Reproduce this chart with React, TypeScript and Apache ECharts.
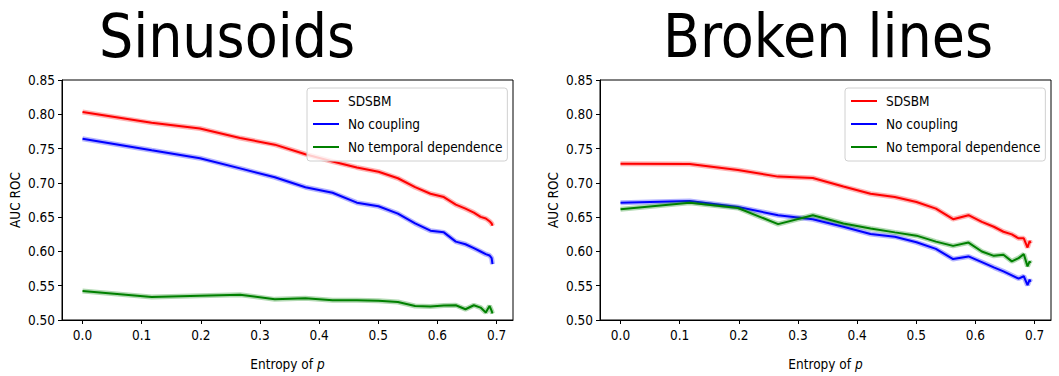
import React, { useEffect, useRef } from "react";
import * as echarts from "echarts";

// Entropy of p at which the curves were evaluated
const XS = [0, 0.1169, 0.1985, 0.2664, 0.3251, 0.3768, 0.4227, 0.4638, 0.5004, 0.5332, 0.5623, 0.5883, 0.6109, 0.6311, 0.6474, 0.6616, 0.673, 0.6818, 0.6881, 0.6917, 0.6931];
const X_TICKS = [0, 0.1, 0.2, 0.3, 0.4, 0.5, 0.6, 0.7];

const SERIES_NAMES = ["SDSBM", "No coupling", "No temporal dependence"];
const COLORS = ["#ff0000", "#0000ff", "#008000"];
const TITLES = ["Sinusoids", "Broken lines"];

// Sinusoids panel
const SIN_SDSBM = [0.8033, 0.7875, 0.7793, 0.7653, 0.7557, 0.7418, 0.7312, 0.7225, 0.7163, 0.7067, 0.6937, 0.6841, 0.6793, 0.6682, 0.6624, 0.6566, 0.6504, 0.648, 0.6441, 0.6408, 0.6374];
const SIN_NOCOUP = [0.7644, 0.7475, 0.736, 0.7211, 0.7081, 0.6937, 0.6855, 0.6711, 0.6658, 0.6552, 0.6408, 0.6302, 0.6278, 0.6143, 0.6105, 0.6047, 0.5999, 0.596, 0.5941, 0.5903, 0.5816];
const SIN_NOTEMP = [0.5422, 0.5335, 0.5354, 0.5369, 0.5301, 0.5316, 0.5287, 0.5287, 0.5282, 0.5263, 0.5205, 0.5196, 0.521, 0.5215, 0.5157, 0.5215, 0.5181, 0.5109, 0.5205, 0.5133, 0.5094];

// Broken lines panel
const BRK_SDSBM = [0.7278, 0.7274, 0.7187, 0.7091, 0.7071, 0.6946, 0.6841, 0.6793, 0.672, 0.6624, 0.647, 0.6528, 0.6432, 0.636, 0.6287, 0.6249, 0.6191, 0.6191, 0.6057, 0.6153, 0.6119];
const BRK_NOCOUP = [0.6711, 0.6735, 0.6648, 0.6528, 0.647, 0.636, 0.6254, 0.6215, 0.6133, 0.6037, 0.5888, 0.5927, 0.5845, 0.5768, 0.571, 0.5652, 0.5604, 0.5638, 0.5508, 0.559, 0.5556];
const BRK_NOTEMP = [0.6615, 0.6711, 0.6634, 0.6398, 0.6528, 0.6408, 0.6335, 0.6278, 0.623, 0.6143, 0.6081, 0.6129, 0.5999, 0.5936, 0.5951, 0.5855, 0.5903, 0.596, 0.5782, 0.5855, 0.5831];

const FONT = "'DejaVu Sans Condensed', 'DejaVu Sans', sans-serif";

export default function App() {
  const ref = useRef<HTMLDivElement>(null);

  useEffect(() => {
    const chart = echarts.init(ref.current!, null, { renderer: "svg" });
    const panels = [
      { left: 62, legendLeft: 307, titleX: 227, ys: [SIN_SDSBM, SIN_NOCOUP, SIN_NOTEMP] },
      { left: 600, legendLeft: 845, titleX: 828, ys: [BRK_SDSBM, BRK_NOCOUP, BRK_NOTEMP] },
    ];
    const grid: any[] = [];
    const xAxis: any[] = [];
    const yAxis: any[] = [];
    const legend: any[] = [];
    const series: any[] = [];
    const graphic: any[] = [];

    panels.forEach((p, gi) => {
      grid.push({
        left: p.left,
        top: 80,
        width: 451,
        height: 243,
        show: true,
        borderColor: "#000",
        borderWidth: 1,
        backgroundColor: "#fff",
      });
      xAxis.push({
        type: "value",
        gridIndex: gi,
        min: -0.0347,
        max: 0.7278,
        axisLine: { show: true, onZero: false, lineStyle: { color: "#000", width: 1 } },
        axisTick: { show: true, customValues: X_TICKS, length: 4, lineStyle: { color: "#000" } },
        axisLabel: {
          customValues: X_TICKS,
          formatter: (v: number) => v.toFixed(1),
          color: "#000",
          fontFamily: FONT,
          fontSize: 13.5,
          margin: 8,
        },
        splitLine: { show: false },
        name: "Entropy of {i|p}",
        nameLocation: "middle",
        nameGap: 37,
        nameTextStyle: {
          color: "#000",
          fontFamily: FONT,
          fontSize: 13.5,
          rich: { i: { fontStyle: "italic", fontFamily: FONT, fontSize: 13.5, color: "#000" } },
        },
      });
      yAxis.push({
        type: "value",
        gridIndex: gi,
        min: 0.5,
        max: 0.85,
        interval: 0.05,
        axisLine: { show: true, onZero: false, lineStyle: { color: "#000", width: 1 } },
        axisTick: { show: true, length: 4, lineStyle: { color: "#000" } },
        axisLabel: {
          formatter: (v: number) => v.toFixed(2),
          color: "#000",
          fontFamily: FONT,
          fontSize: 13.5,
          margin: 7,
        },
        splitLine: { show: false },
        name: "AUC ROC",
        nameLocation: "middle",
        nameGap: 40,
        nameTextStyle: { color: "#000", fontFamily: FONT, fontSize: 13.5 },
      });
      legend.push({
        data: SERIES_NAMES,
        orient: "vertical",
        left: p.legendLeft,
        top: 88,
        backgroundColor: "rgba(255,255,255,0.8)",
        borderColor: "#d0d0d0",
        borderWidth: 1,
        borderRadius: 3,
        padding: [6, 5, 7, 5],
        itemWidth: 26,
        itemHeight: 14,
        itemGap: 9,
        selectedMode: false,
        itemStyle: { opacity: 0 },
        lineStyle: { width: 2 },
        textStyle: { color: "#000", fontFamily: FONT, fontSize: 13.5, padding: [0, 0, 0, 4] },
      });
      p.ys.forEach((ys, si) => {
        const data = XS.map((x, i) => [x, ys[i]]);
        series.push({
          type: "line",
          name: SERIES_NAMES[si] + " band " + gi,
          xAxisIndex: gi,
          yAxisIndex: gi,
          data,
          symbol: "none",
          silent: true,
          lineStyle: { color: COLORS[si], width: 5, opacity: 0.3 },
          z: 2 + si,
        });
        series.push({
          type: "line",
          name: SERIES_NAMES[si],
          xAxisIndex: gi,
          yAxisIndex: gi,
          data,
          symbol: "none",
          itemStyle: { color: COLORS[si] },
          lineStyle: { color: COLORS[si], width: 2 },
          z: 2 + si,
        });
      });
      graphic.push({
        type: "text",
        x: p.titleX,
        y: 35.5,
        style: {
          text: TITLES[gi],
          fontFamily: FONT,
          fontSize: 60,
          fill: "#000",
          align: "center",
          verticalAlign: "middle",
        },
      });
    });

    chart.setOption({
      animation: false,
      backgroundColor: "#fff",
      grid,
      xAxis,
      yAxis,
      legend,
      series,
      graphic,
    });
    return () => chart.dispose();
  }, []);

  return <div ref={ref} style={{ position: "fixed", left: 0, top: 0, width: 1059, height: 376 }} />;
}
